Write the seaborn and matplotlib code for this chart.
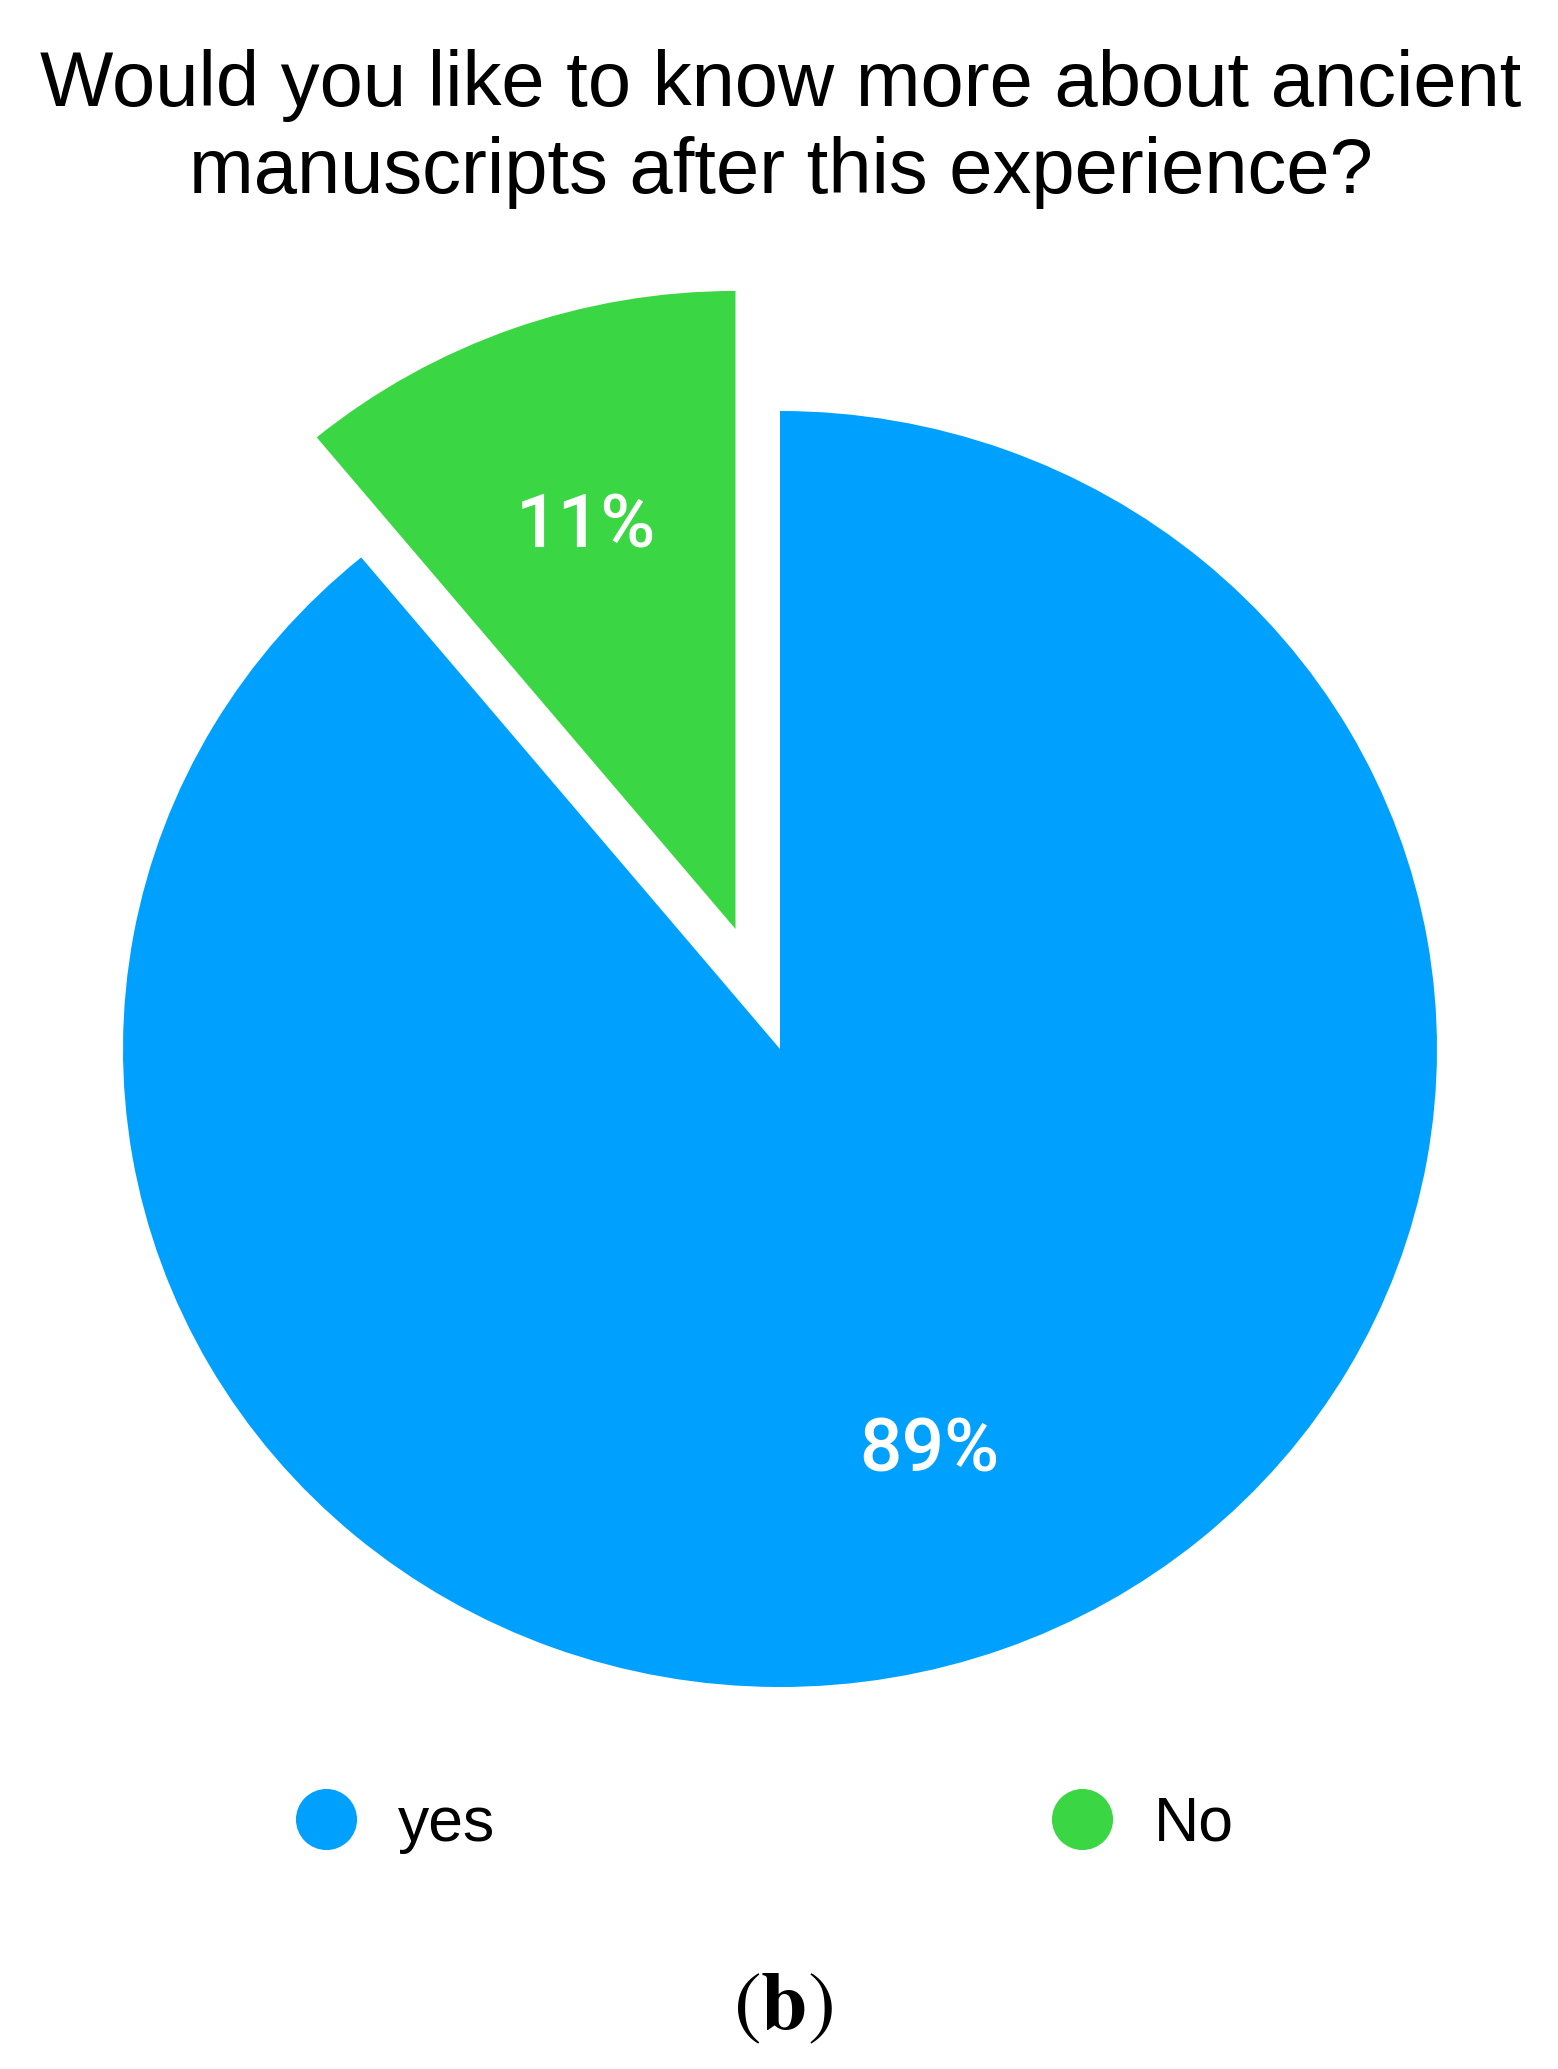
import matplotlib
matplotlib.use("Agg")
import matplotlib.pyplot as plt
from matplotlib.lines import Line2D
import seaborn as sns

# ---- data ----
categories = ["yes", "No"]
values = [89, 11]
explode_amounts = [0.0, 0.2]
title_lines = ["Would you like to know more about ancient",
               "manuscripts after this experience?"]
panel_label = r"$(\mathbf{b})$"

sns.set_style("white")
palette = sns.color_palette(["#00A1FE", "#3BD643"])
plt.rcParams['font.family'] = ['Liberation Sans', 'DejaVu Sans']
plt.rcParams['mathtext.fontset'] = 'stix'
plt.rcParams['text.color'] = 'black'

W, H = 1558, 2069
fig = plt.figure(figsize=(W / 100, H / 100), dpi=100)

# pie axes placed in pixel terms
cx, cy = 780, 1049          # centre (from top)
rx, ry = 657, 638           # px per data unit
xl = (-1.15, 1.15)
yl = (-1.1, 1.3)
ax_w = (xl[1] - xl[0]) * rx
ax_h = (yl[1] - yl[0]) * ry
left = cx + xl[0] * rx
bottom = (H - cy) + yl[0] * ry
ax = fig.add_axes([left / W, bottom / H, ax_w / W, ax_h / H])

wedges, texts, autotexts = ax.pie(
    values, colors=palette, explode=explode_amounts,
    startangle=90, counterclock=False, autopct='%d%%',
    pctdistance=0.67, radius=1.0,
    textprops=dict(color='white', fontsize=54, family=['Roboto', 'DejaVu Sans'],
                   fontweight='medium'),
    wedgeprops=dict(linewidth=0))
ax.set_aspect('auto')
ax.set_xlim(*xl)
ax.set_ylim(*yl)
ax.axis('off')

# title
fig.text(781 / W, 1 - 106 / H, title_lines[0], ha='center', va='baseline',
         fontsize=56, color='black')
fig.text(781 / W, 1 - 193 / H, title_lines[1], ha='center', va='baseline',
         fontsize=56, color='black')

# legend
handles = [Line2D([0], [0], marker='o', linestyle='none', markersize=44,
                  markerfacecolor=c, markeredgewidth=0) for c in palette]
leg = fig.legend(handles, categories, loc='center left',
                 bbox_to_anchor=(295 / W, 1 - 1824 / H), ncol=2, frameon=False,
                 fontsize=45, handlelength=1.0, handletextpad=0.64,
                 columnspacing=8.9, borderpad=0, borderaxespad=0)
for t in leg.get_texts():
    t.set_color('black')

# panel label
fig.text(783 / W, 1 - 2007 / H, panel_label, ha='center', va='center',
         fontsize=60, color='black')

fig.savefig("out.png", dpi=100, facecolor='white')
